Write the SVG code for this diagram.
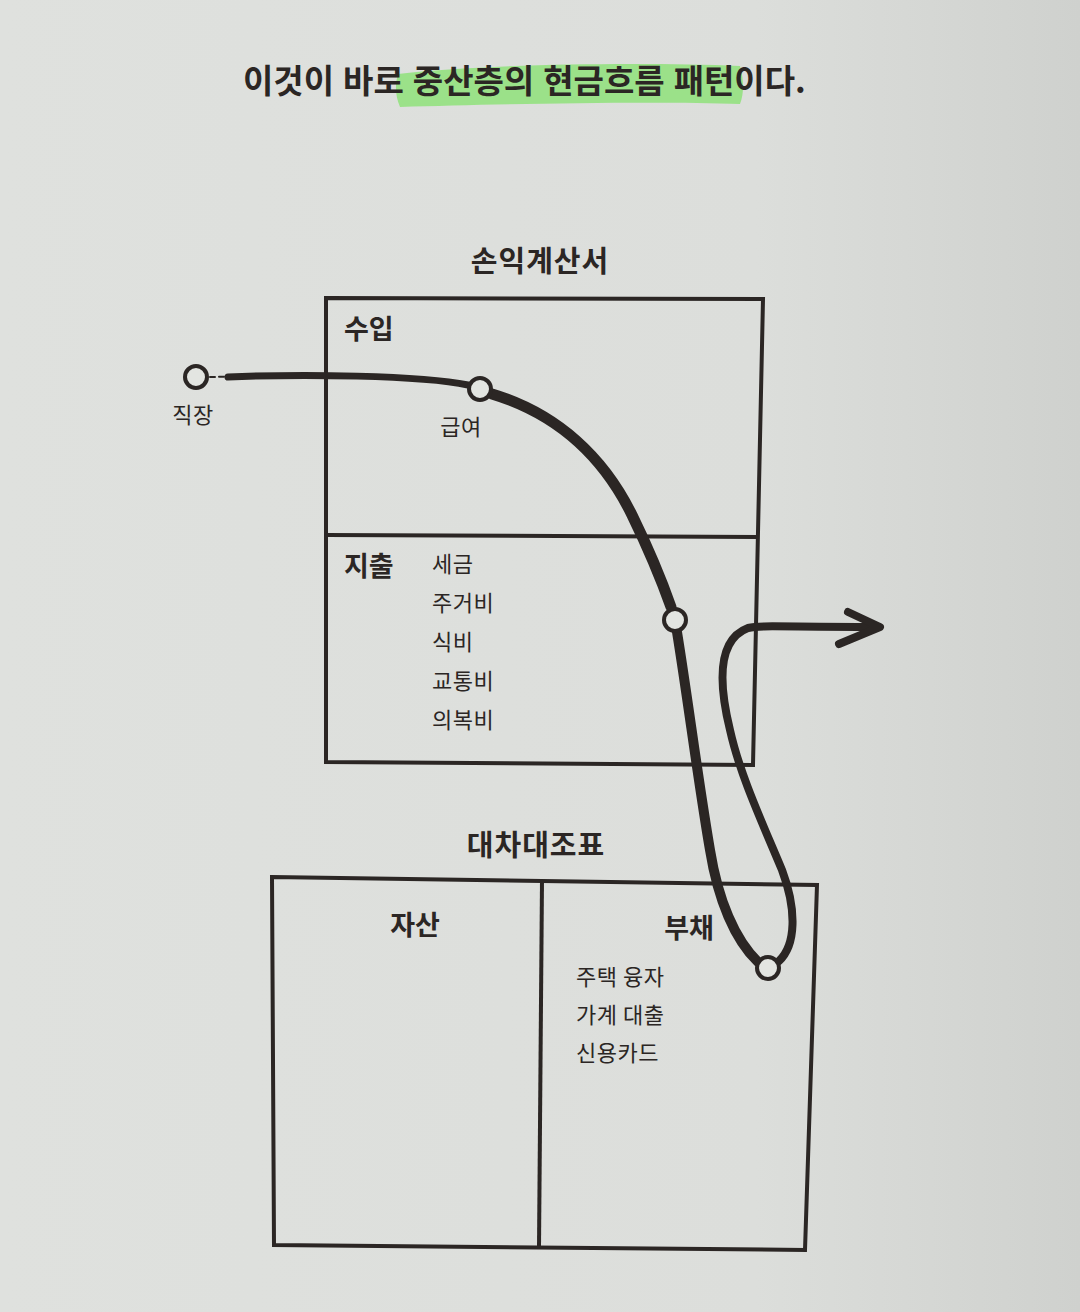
<svg xmlns="http://www.w3.org/2000/svg" width="1080" height="1312" viewBox="0 0 1080 1312">
<defs>
<style>
.t{font-family:"Noto Sans CJK KR","Noto Sans",sans-serif;fill:#2b2624}
.b{font-weight:700}
.lbl{font-size:22px;letter-spacing:0.5px}
.hd{font-size:27px;font-weight:700}
.sec{font-size:29px;font-weight:700;letter-spacing:1px}
.box{fill:none;stroke:#2b2624;stroke-width:4;stroke-linejoin:miter}
.node{fill:#e3e5e1;stroke:#2b2624;stroke-width:4}
.flow{fill:none;stroke:#2b2624;stroke-linecap:round;stroke-linejoin:round}
</style>
<linearGradient id="bg" x1="0" y1="0" x2="1" y2="0">
<stop offset="0" stop-color="#dfe1de"/>
<stop offset="0.7" stop-color="#dcdedb"/>
<stop offset="1" stop-color="#cfd1ce"/>
</linearGradient>
</defs>
<rect width="1080" height="1312" fill="url(#bg)"/>

<g id="title">
<path d="M398,74 C480,64 640,62 740,66 C744,80 744,94 740,104 C650,101 500,104 400,107 C395,95 395,84 398,74 Z" fill="#8fe27a" opacity="0.85"/>
<text class="t b" x="243" y="93" font-size="33" word-spacing="1.5">이것이 바로 중산층의 현금흐름 패턴이다.</text>
</g>

<g id="income-statement">
<text class="t sec" x="540" y="272" text-anchor="middle">손익계산서</text>
<polygon class="box" points="326,298 763,299 753,765 326,762"/>
<line class="box" x1="326" y1="535" x2="757" y2="537"/>
<text class="t hd" x="344" y="339">수입</text>
<text class="t hd" x="344" y="576">지출</text>
<text class="t lbl" x="432" y="572">세금</text>
<text class="t lbl" x="432" y="611">주거비</text>
<text class="t lbl" x="432" y="650">식비</text>
<text class="t lbl" x="432" y="689">교통비</text>
<text class="t lbl" x="432" y="728">의복비</text>
</g>

<g id="balance-sheet">
<text class="t sec" x="536" y="856" text-anchor="middle">대차대조표</text>
<polygon class="box" points="272,877 817,885 805,1250 274,1245"/>
<line class="box" x1="542" y1="880" x2="539" y2="1247"/>
<text class="t hd" x="415" y="935" text-anchor="middle">자산</text>
<text class="t hd" x="689" y="938" text-anchor="middle">부채</text>
<text class="t lbl" x="576" y="985">주택 융자</text>
<text class="t lbl" x="576" y="1023">가계 대출</text>
<text class="t lbl" x="576" y="1061">신용카드</text>
</g>

<g id="connectors">
<path class="flow" d="M210,377 L262,376" stroke-width="2" stroke-dasharray="5 4"/>
<path class="flow" d="M228,377 C300,374 420,375 468,385" stroke-width="7"/>
<path class="flow" d="M492,394 C558,414 604,458 632,515 C652,556 665,590 671,607" stroke-width="11"/>
<path class="flow" d="M677,632 C688,700 698,780 710,850 C718,900 735,940 758,962" stroke-width="10"/>
<path class="flow" d="M779,961 C796,945 797,910 782,870 C762,822 740,775 730,730 C719,685 716,640 748,628 C760,625 780,627 876,627" stroke-width="8"/>
<path class="flow" d="M848,612 L880,627 L839,644" stroke-width="8"/>
</g>

<g id="node-job">
<circle class="node" cx="196" cy="377" r="11"/>
<text class="t lbl" x="193" y="423" text-anchor="middle">직장</text>
</g>
<g id="node-salary">
<circle class="node" cx="480" cy="389" r="11"/>
<text class="t lbl" x="461" y="435" text-anchor="middle">급여</text>
</g>
<g id="node-expense">
<circle class="node" cx="675" cy="620" r="11"/>
</g>
<g id="node-liability">
<circle class="node" cx="768" cy="968" r="11"/>
</g>
</svg>
